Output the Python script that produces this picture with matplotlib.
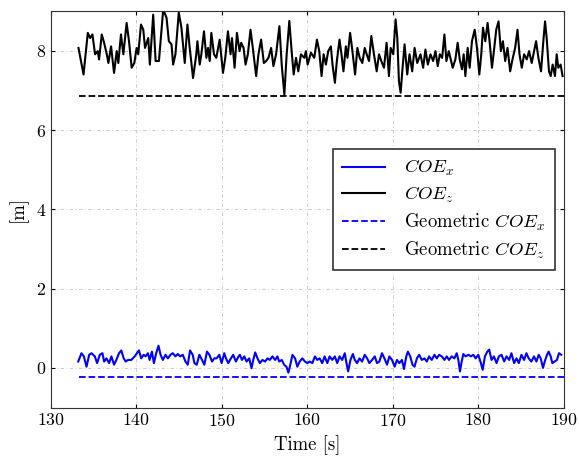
import matplotlib
matplotlib.use('Agg')
import matplotlib.pyplot as plt

plt.rcParams['font.family'] = 'serif'
plt.rcParams['font.serif'] = ['cmr10']
plt.rcParams['mathtext.fontset'] = 'cm'
plt.rcParams['axes.unicode_minus'] = False
plt.rcParams['axes.formatter.use_mathtext'] = True

# COE_z time series
t_z = [133.22, 133.81, 134.31, 134.58, 134.85, 135.16, 135.47, 135.63, 135.94, 136.22,
       136.53, 136.72, 137.03, 137.38, 137.69, 137.88, 138.19, 138.47, 138.85, 139.13,
       139.44, 139.75, 140.02, 140.21, 140.53, 140.80, 141.00, 141.38, 141.57, 141.96,
       142.24, 142.63, 143.13, 143.52, 143.79, 144.10, 144.29, 144.56, 144.95, 145.26,
       145.65, 145.96, 146.23, 146.62, 147.00, 147.13, 147.40, 147.59, 147.90, 148.18,
       148.37, 148.57, 148.76, 149.07, 149.34, 149.73, 150.12, 150.39, 150.70, 151.01,
       151.17, 151.48, 151.75, 152.06, 152.25, 152.53, 152.76, 153.03, 153.34, 153.61,
       154.00, 154.27, 154.58, 154.90, 155.17, 155.44, 155.75, 156.02, 156.33, 156.72,
       156.99, 157.30, 157.57, 157.88, 158.15, 158.39, 158.66, 158.93, 159.24, 159.63,
       159.82, 160.02, 160.41, 160.80, 161.11, 161.38, 161.65, 161.89, 162.16, 162.43,
       162.74, 162.93, 163.21, 163.44, 163.75, 163.98, 164.21, 164.49, 164.68, 164.99,
       165.26, 165.57, 165.84, 166.11, 166.42, 166.70, 166.93, 167.20, 167.47, 167.78,
       168.10, 168.37, 168.64, 168.95, 169.26, 169.53, 169.73, 170.04, 170.31, 170.51,
       170.70, 170.90, 171.09, 171.36, 171.67, 171.94, 172.25, 172.53, 172.84, 173.22,
       173.53, 173.80, 174.08, 174.39, 174.70, 174.97, 175.24, 175.48, 175.75, 176.02,
       176.25, 176.53, 176.72, 176.99, 177.30, 177.57, 177.81, 178.08, 178.27, 178.47,
       178.74, 178.97, 179.24, 179.56, 179.83, 180.10, 180.33, 180.53, 180.80, 181.07,
       181.30, 181.58, 181.85, 182.08, 182.35, 182.62, 182.86, 183.13, 183.40, 183.71,
       183.98, 184.29, 184.57, 184.80, 185.07, 185.34, 185.65, 185.92, 186.23, 186.51,
       186.74, 187.01, 187.32, 187.59, 187.79, 187.98, 188.25, 188.45, 188.68, 188.95,
       189.15, 189.34, 189.61, 189.84]
coe_z = [8.07, 7.40, 8.45, 8.32, 8.41, 7.91, 7.99, 7.78, 8.41, 8.20,
         7.91, 7.69, 8.11, 7.44, 7.99, 7.69, 8.41, 7.91, 8.70, 8.24,
         7.57, 7.69, 8.07, 7.91, 8.66, 8.53, 8.07, 8.32, 7.65, 8.91,
         7.74, 7.74, 9.04, 8.83, 8.24, 8.16, 7.65, 7.91, 8.96, 8.58,
         7.69, 8.66, 8.07, 7.31, 7.91, 8.24, 7.65, 7.91, 8.49, 7.82,
         8.07, 7.74, 8.45, 7.91, 7.82, 8.28, 7.44, 7.82, 8.49, 7.91,
         8.32, 7.57, 8.45, 7.99, 8.20, 8.07, 7.65, 7.91, 8.53, 8.07,
         7.36, 7.91, 8.28, 7.69, 7.74, 7.82, 8.07, 7.61, 7.91, 8.62,
         7.65, 6.89, 7.91, 8.75, 7.99, 7.40, 7.82, 7.48, 7.91, 7.82,
         7.99, 7.65, 7.95, 7.82, 8.28, 7.99, 7.36, 7.91, 7.65, 7.99,
         8.11, 7.65, 7.19, 7.74, 8.28, 7.91, 7.48, 8.11, 7.82, 8.45,
         7.99, 7.40, 8.07, 7.82, 7.69, 8.07, 7.91, 7.74, 8.37, 7.91,
         7.48, 7.91, 7.74, 7.57, 8.20, 7.36, 8.07, 7.91, 8.79, 8.32,
         7.23, 6.94, 7.48, 8.16, 7.40, 7.91, 7.48, 8.07, 7.69, 7.91,
         7.57, 8.03, 7.65, 7.91, 7.74, 7.99, 7.61, 7.91, 7.82, 8.41,
         7.74, 7.99, 7.82, 7.57, 7.78, 8.20, 7.78, 7.53, 7.91, 7.36,
         8.07, 7.57, 8.24, 8.53, 8.07, 7.40, 7.91, 8.58, 8.24, 8.70,
         8.24, 7.57, 8.07, 8.53, 8.74, 7.99, 8.24, 7.74, 8.07, 7.48,
         7.78, 8.07, 8.53, 7.91, 7.57, 7.91, 7.78, 7.99, 7.69, 7.99,
         8.24, 7.82, 7.48, 8.24, 8.74, 8.32, 7.48, 7.36, 7.65, 7.36,
         7.91, 7.57, 7.65, 7.36]

# COE_x time series
t_x = [133.19, 133.57, 133.85, 134.16, 134.47, 134.74, 135.13, 135.40, 135.71, 136.02,
       136.22, 136.49, 136.80, 137.07, 137.38, 137.65, 137.96, 138.23, 138.51, 138.74,
       139.01, 139.40, 139.79, 140.06, 140.29, 140.56, 140.84, 141.07, 141.34, 141.54,
       141.81, 142.04, 142.31, 142.58, 142.82, 143.09, 143.40, 143.67, 143.98, 144.25,
       144.56, 144.84, 145.11, 145.42, 145.73, 146.00, 146.27, 146.58, 146.78, 147.05,
       147.36, 147.67, 147.94, 148.25, 148.53, 148.84, 149.11, 149.38, 149.69, 149.96,
       150.27, 150.47, 150.74, 151.05, 151.32, 151.63, 151.94, 152.10, 152.34, 152.61,
       152.88, 153.19, 153.46, 153.66, 153.89, 154.16, 154.43, 154.74, 155.05, 155.33,
       155.60, 155.91, 156.22, 156.49, 156.69, 157.00, 157.27, 157.54, 157.77, 158.04,
       158.24, 158.55, 158.82, 159.09, 159.40, 159.71, 159.99, 160.26, 160.57, 160.88,
       161.15, 161.42, 161.73, 162.01, 162.32, 162.59, 162.90, 163.21, 163.48, 163.75,
       164.06, 164.37, 164.53, 164.76, 165.03, 165.31, 165.54, 165.81, 166.08, 166.39,
       166.70, 166.98, 167.25, 167.56, 167.87, 168.14, 168.41, 168.72, 169.00, 169.31,
       169.58, 169.89, 170.20, 170.47, 170.74, 171.05, 171.29, 171.56, 171.75, 172.02,
       172.29, 172.52, 172.80, 173.07, 173.38, 173.69, 173.96, 174.23, 174.54, 174.85,
       175.13, 175.40, 175.71, 176.02, 176.29, 176.56, 176.87, 177.18, 177.46, 177.65,
       177.84, 178.04, 178.23, 178.50, 178.82, 179.13, 179.40, 179.67, 179.98, 180.29,
       180.49, 180.76, 181.03, 181.26, 181.53, 181.81, 182.12, 182.39, 182.70, 183.01,
       183.28, 183.59, 183.86, 184.17, 184.45, 184.72, 185.03, 185.34, 185.61, 185.88,
       186.19, 186.50, 186.78, 187.05, 187.28, 187.55, 187.75, 188.02, 188.21, 188.45,
       188.64, 188.91, 189.18, 189.42, 189.69]
coe_x = [0.16, 0.37, 0.29, 0.03, 0.33, 0.37, 0.29, 0.12, 0.33, 0.37,
         0.16, 0.24, 0.12, 0.29, 0.08, 0.20, 0.37, 0.44, 0.24, 0.16,
         0.20, 0.20, 0.29, 0.37, 0.44, 0.24, 0.33, 0.29, 0.37, 0.20,
         0.41, 0.12, 0.37, 0.56, 0.33, 0.20, 0.33, 0.24, 0.33, 0.37,
         0.29, 0.35, 0.29, 0.33, 0.16, 0.08, 0.44, 0.33, 0.12, 0.08,
         0.33, 0.20, 0.08, 0.41, 0.33, 0.16, 0.24, 0.24, 0.33, 0.12,
         0.37, 0.24, 0.12, 0.24, 0.33, 0.16, 0.29, 0.33, 0.20, 0.29,
         0.16, 0.24, -0.01, 0.20, 0.39, 0.24, 0.12, 0.20, 0.16, 0.24,
         0.20, 0.29, 0.20, 0.29, 0.16, 0.20, 0.08, 0.03, -0.12, 0.12,
         0.33, 0.24, 0.03, 0.16, 0.24, 0.16, 0.12, 0.16, 0.12, 0.29,
         0.20, 0.24, 0.12, 0.29, 0.12, 0.29, 0.20, 0.29, 0.12, 0.29,
         0.20, 0.37, 0.16, -0.09, 0.20, 0.35, 0.20, 0.12, 0.24, 0.16,
         0.33, 0.24, 0.12, 0.20, 0.29, 0.12, 0.16, 0.37, 0.24, 0.08,
         0.29, 0.20, 0.03, 0.20, 0.12, 0.20, -0.03, 0.29, 0.41, 0.29,
         0.08, 0.03, 0.24, 0.33, 0.20, 0.24, 0.16, 0.29, 0.20, 0.33,
         0.24, 0.33, 0.29, 0.20, 0.29, 0.20, 0.29, 0.24, 0.37, 0.20,
         -0.09, 0.16, 0.35, 0.29, 0.33, 0.29, 0.33, 0.24, 0.33, 0.12,
         -0.05, 0.29, 0.41, 0.46, 0.20, 0.29, 0.12, 0.29, 0.33, 0.16,
         0.29, 0.20, 0.37, 0.12, 0.24, 0.12, 0.33, 0.20, 0.37, 0.24,
         0.16, 0.29, 0.16, 0.33, 0.24, 0.00, 0.16, 0.33, 0.41, 0.29,
         0.12, 0.16, 0.20, 0.37, 0.33]

# geometric (constant) values
geo_t = [133.3, 190.0]
geo_x = -0.23
geo_z = 6.86

fig = plt.figure(figsize=(5.79, 4.61), dpi=100)
ax = fig.add_axes([0.088, 0.116, 0.886, 0.86])

ax.plot(t_x, coe_x, color='blue', lw=1.5, label=r'$COE_x$')
ax.plot(t_z, coe_z, color='black', lw=1.5, label=r'$COE_z$')
ax.plot(geo_t, [geo_x, geo_x], '--', color='blue', lw=1.3, label=r'Geometric $COE_x$')
ax.plot(geo_t, [geo_z, geo_z], '--', color='black', lw=1.3, label=r'Geometric $COE_z$')

ax.set_xlim(130, 190)
ax.set_ylim(-1, 9)
ax.set_yticks([0, 2, 4, 6, 8])
ax.set_xticks(range(130, 191, 10))
ax.grid(True, linestyle=(0, (4, 3, 1, 3)), color='#c4c4c4', lw=0.6)
ax.tick_params(direction='in', labelsize=12.8, top=True, right=True, length=3)
for s in ax.spines.values():
    s.set_color('#333333')
ax.set_xlabel('Time [s]', fontsize=13.5)
ax.set_ylabel('[m]', fontsize=13.5, labelpad=6)

leg = ax.legend(loc='center right', fontsize=13.5, fancybox=False, framealpha=1,
                edgecolor='#333333', handlelength=2.3, handletextpad=1.0,
                borderpad=0.5, labelspacing=0.35)
leg.get_frame().set_linewidth(1.2)

plt.savefig('out.png', dpi=100)
